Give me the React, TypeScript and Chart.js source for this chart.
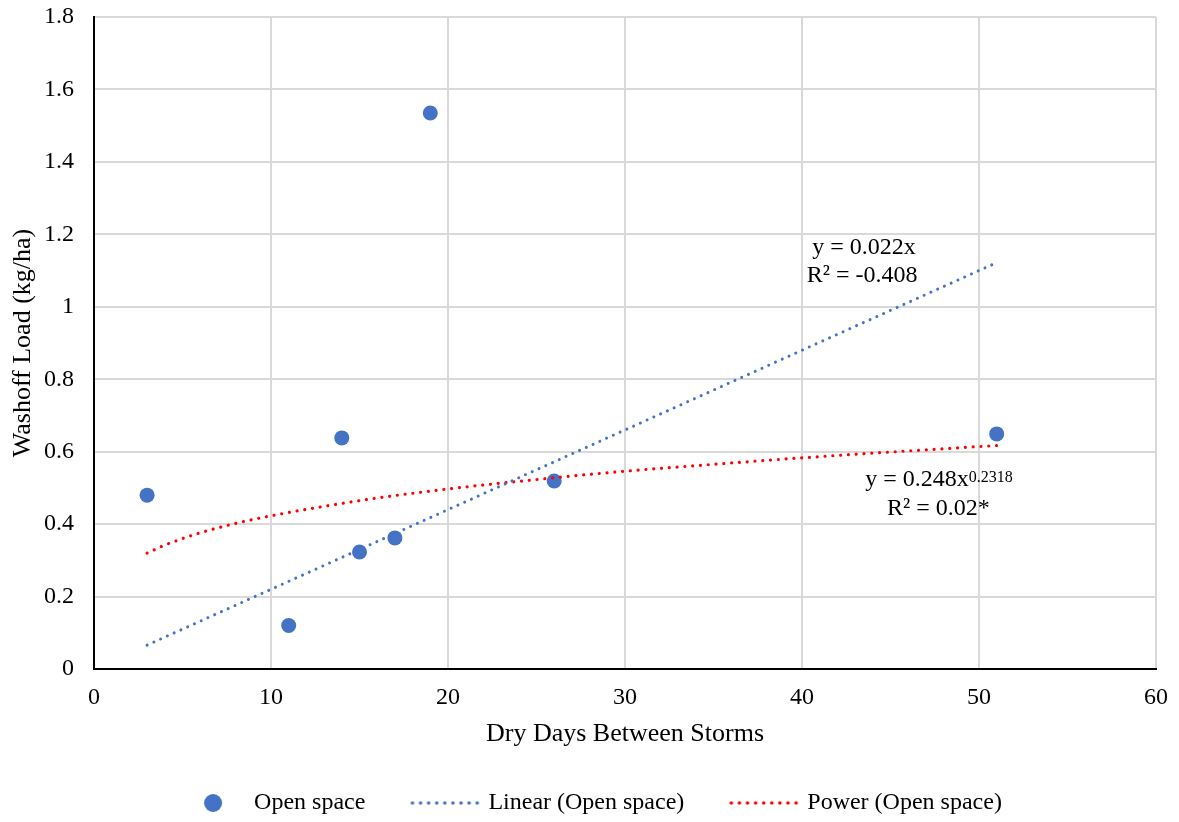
import React, { useEffect, useRef } from 'react';
import { Chart, registerables } from 'chart.js';

Chart.register(...registerables);

// ---- data ----
const dryDays = [3, 11, 14, 15, 17, 19, 26, 51];
const washoffLoad = [0.48, 0.12, 0.638, 0.323, 0.362, 1.535, 0.519, 0.649];

const linearX = [3, 51];
const linearY = [0.066, 1.122];

const powerX = [3, 4, 5, 6, 8, 10, 13, 16, 20, 25, 30, 35, 40, 45, 51];
const powerY = [0.32, 0.342, 0.36, 0.376, 0.402, 0.423, 0.449, 0.472, 0.497, 0.523, 0.546, 0.565, 0.583, 0.599, 0.617];

const seriesNames = ['Open space', 'Linear (Open space)', 'Power (Open space)'];
const xTitle = 'Dry Days Between Storms';
const yTitle = 'Washoff Load (kg/ha)';

const linearEquation = 'y = 0.022x';
const linearR2 = 'R² = -0.408';
const powerEquationBase = 'y = 0.248x';
const powerEquationExponent = '0.2318';
const powerR2 = 'R² = 0.02*';

// label anchors in data units (x, y)
const linearEquationAt = [43.5, 1.146];
const linearR2At = [43.4, 1.068];
const powerEquationAt = [47.74, 0.505];
const powerR2At = [47.71, 0.425];

const FONT = '"Liberation Serif", "Times New Roman", serif';
const BLUE = '#4472C4';
const RED = '#FF0000';
const GRID = '#D9D9D9';

function makeCircleMarker(): HTMLCanvasElement {
  const c = document.createElement('canvas');
  c.width = 100;
  c.height = 24;
  const g = c.getContext('2d')!;
  g.fillStyle = BLUE;
  g.beginPath();
  g.arc(59, 12, 9, 0, Math.PI * 2);
  g.fill();
  return c;
}

function makeDotMarker(color: string): HTMLCanvasElement {
  const c = document.createElement('canvas');
  c.width = 100;
  c.height = 24;
  const g = c.getContext('2d')!;
  g.fillStyle = color;
  for (let i = 0; i < 9; i++) {
    g.beginPath();
    g.arc(24 + i * 8.1, 12, 1.8, 0, Math.PI * 2);
    g.fill();
  }
  return c;
}

const trendLabels = {
  id: 'trendLabels',
  afterDatasetsDraw(chart: any) {
    const { ctx } = chart;
    const xs = chart.scales.x;
    const ys = chart.scales.y;
    ctx.save();
    ctx.fillStyle = '#000';
    ctx.textBaseline = 'alphabetic';
    ctx.textAlign = 'center';
    ctx.font = `24px ${FONT}`;
    ctx.fillText(linearEquation, xs.getPixelForValue(linearEquationAt[0]), ys.getPixelForValue(linearEquationAt[1]));
    ctx.fillText(linearR2, xs.getPixelForValue(linearR2At[0]), ys.getPixelForValue(linearR2At[1]));
    ctx.fillText(powerR2, xs.getPixelForValue(powerR2At[0]), ys.getPixelForValue(powerR2At[1]));

    // equation with superscript exponent
    const mainW = ctx.measureText(powerEquationBase).width;
    ctx.font = `16px ${FONT}`;
    const supW = ctx.measureText(powerEquationExponent).width;
    const cx = xs.getPixelForValue(powerEquationAt[0]);
    const by = ys.getPixelForValue(powerEquationAt[1]);
    const startX = cx - (mainW + supW) / 2;
    ctx.textAlign = 'left';
    ctx.font = `24px ${FONT}`;
    ctx.fillText(powerEquationBase, startX, by);
    ctx.font = `16px ${FONT}`;
    ctx.fillText(powerEquationExponent, startX + mainW, by - 4.5);
    ctx.restore();
  },
};

export default function App() {
  const ref = useRef<HTMLCanvasElement>(null);

  useEffect(() => {
    const canvas = ref.current;
    if (!canvas) return;
    const markers = [makeCircleMarker(), makeDotMarker(BLUE), makeDotMarker(RED)];
    const markerColors = [BLUE, BLUE, RED];

    const chart = new Chart(canvas, {
      type: 'scatter',
      data: {
        datasets: [
          {
            label: seriesNames[0],
            data: dryDays.map((d, i) => ({ x: d, y: washoffLoad[i] })),
            backgroundColor: BLUE,
            borderColor: BLUE,
            pointRadius: 7.5,
            pointHoverRadius: 7.5,
            pointBorderWidth: 0,
            showLine: false,
            order: 2,
          },
          {
            label: seriesNames[1],
            data: linearX.map((d, i) => ({ x: d, y: linearY[i] })),
            showLine: true,
            borderColor: BLUE,
            borderWidth: 3,
            borderDash: [0.01, 7.4],
            borderCapStyle: 'round',
            pointRadius: 0,
            pointHoverRadius: 0,
            fill: false,
            order: 1,
          },
          {
            label: seriesNames[2],
            data: powerX.map((d, i) => ({ x: d, y: powerY[i] })),
            showLine: true,
            borderColor: RED,
            borderWidth: 3.2,
            borderDash: [0.01, 7.8],
            borderCapStyle: 'round',
            cubicInterpolationMode: 'monotone',
            pointRadius: 0,
            pointHoverRadius: 0,
            fill: false,
            order: 1,
          },
        ],
      } as any,
      options: {
        animation: false,
        responsive: true,
        maintainAspectRatio: false,
        layout: { padding: { top: 17, right: 23, bottom: -3, left: 12 } },
        plugins: {
          tooltip: { enabled: false },
          legend: {
            position: 'bottom',
            labels: {
              usePointStyle: true,
              pointStyleWidth: 76,
              padding: 35,
              color: '#000',
              font: { family: FONT, size: 24 },
              generateLabels: () =>
                seriesNames.map((name, i) => ({
                  text: name,
                  pointStyle: markers[i] as any,
                  fillStyle: markerColors[i],
                  strokeStyle: markerColors[i],
                  lineWidth: 0,
                  hidden: false,
                  datasetIndex: i,
                  fontColor: '#000',
                })),
            },
          },
        },
        scales: {
          x: {
            type: 'linear',
            min: 0,
            max: 60,
            afterFit: (s: any) => {
              s.height = 87;
            },
            ticks: {
              stepSize: 10,
              padding: 0,
              color: '#000',
              font: { family: FONT, size: 24 },
            },
            grid: { color: GRID, lineWidth: 2, drawTicks: true, tickLength: 14, tickColor: 'rgba(0,0,0,0)' },
            border: { color: '#000', width: 2 },
            title: {
              display: true,
              text: xTitle,
              color: '#000',
              font: { family: FONT, size: 26 },
              padding: { top: 0, bottom: 6 },
            },
          },
          y: {
            type: 'linear',
            min: 0,
            max: 1.8,
            afterFit: (s: any) => {
              s.width = 82;
            },
            ticks: {
              stepSize: 0.2,
              padding: 0,
              color: '#000',
              font: { family: FONT, size: 24 },
              callback: (v: any) => String(Number(Number(v).toFixed(1))),
            },
            grid: { color: GRID, lineWidth: 2, drawTicks: true, tickLength: 20, tickColor: 'rgba(0,0,0,0)' },
            border: { color: '#000', width: 2 },
            title: {
              display: true,
              text: yTitle,
              color: '#000',
              font: { family: FONT, size: 26 },
              padding: { top: -4, bottom: 0 },
            },
          },
        },
      } as any,
      plugins: [trendLabels],
    });

    return () => chart.destroy();
  }, []);

  return (
    <div style={{ position: 'fixed', left: 0, top: 0, width: 1179, height: 822, background: '#fff' }}>
      <canvas ref={ref} />
    </div>
  );
}
